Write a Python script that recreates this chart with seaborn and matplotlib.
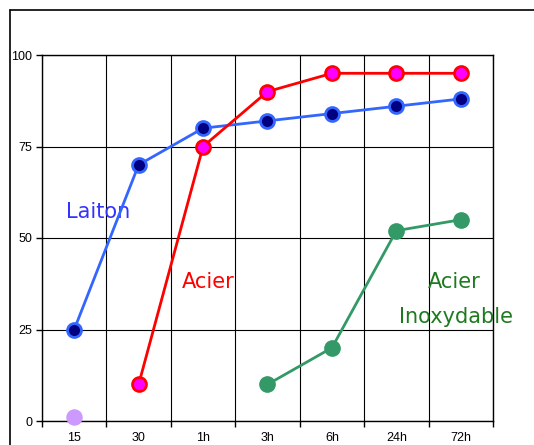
import numpy as np
import pandas as pd
import matplotlib
matplotlib.use('Agg')
import matplotlib.pyplot as plt
import seaborn as sns
from matplotlib.lines import Line2D

categories = ['15', '30', '1h', '3h', '6h', '24h', '72h']
laiton = [25, 70, 80, 82, 84, 86, 88]
acier = [np.nan, 10, 75, 90, 95, 95, 95]
inox = [np.nan, np.nan, np.nan, 10, 20, 52, 55]
extra = [1, np.nan, np.nan, np.nan, np.nan, np.nan, np.nan]
y_ticks = [0, 25, 50, 75, 100]

sns.set_style('white')
plt.rcParams['font.family'] = ['DejaVu Sans']

df = pd.DataFrame({'pos': np.arange(len(categories)), 'laiton': laiton,
                   'acier': acier, 'inox': inox, 'extra': extra})

fig = plt.figure(figsize=(5.34, 4.45), dpi=100)
W, H = 534, 445
ax = fig.add_axes([42 / W, 1 - 421 / H, (493 - 42) / W, (421 - 55) / H])

# outer frame (excel chart area)
fig.add_artist(Line2D([10 / W, 10 / W], [0, 1 - 10 / H], color='black', lw=1.2))
fig.add_artist(Line2D([10 / W, 1], [1 - 10 / H, 1 - 10 / H], color='black', lw=1.2))

sns.lineplot(data=df, x='pos', y='laiton', ax=ax, color='#3366FF', lw=2,
             marker='o', markersize=10, markerfacecolor='#000080',
             markeredgecolor='#3366FF', markeredgewidth=2, clip_on=False, zorder=4)
sns.lineplot(data=df, x='pos', y='acier', ax=ax, color='#FF0000', lw=2,
             marker='o', markersize=10, markerfacecolor='#FF00FF',
             markeredgecolor='#FF0000', markeredgewidth=2, clip_on=False, zorder=5)
sns.lineplot(data=df, x='pos', y='inox', ax=ax, color='#339966', lw=2,
             marker='o', markersize=11, markerfacecolor='#339966',
             markeredgecolor='#339966', markeredgewidth=1, clip_on=False, zorder=4)
sns.scatterplot(data=df, x='pos', y='extra', ax=ax, color='#CC99FF', s=120,
                edgecolor='#CC99FF', clip_on=False, zorder=6)

ax.set_xlim(-0.5, len(categories) - 0.5)
ax.set_ylim(0, 100)
ax.set_xticks(np.arange(len(categories)))
ax.set_xticklabels(categories, family='Liberation Sans')
ax.set_xticks(np.arange(len(categories) + 1) - 0.5, minor=True)
ax.set_yticks(y_ticks)
ax.set_yticklabels([str(v) for v in y_ticks], family='Liberation Sans')
ax.tick_params(axis='x', which='major', length=0, labelsize=9, pad=8, labelcolor='black')
ax.tick_params(axis='x', which='minor', length=4, width=1, direction='out', bottom=True,
               color='black')
ax.tick_params(axis='y', length=4, width=1, direction='out', left=True, labelsize=9, pad=3,
               labelcolor='black', color='black')
ax.grid(False)
ax.grid(True, axis='y', which='major', color='black', lw=0.8)
ax.grid(True, axis='x', which='minor', color='black', lw=0.8)
ax.set_axisbelow(True)
for s in ax.spines.values():
    s.set_color('black')
    s.set_linewidth(1)
ax.set_xlabel('')
ax.set_ylabel('')

ax.text(0.37, 57, 'Laiton', color='#3333FF', fontsize=15, ha='center', va='center')
ax.text(2.08, 38, 'Acier', color='#FF0000', fontsize=15, ha='center', va='center')
ax.text(5.9, 38, 'Acier', color='#1F7A1F', fontsize=15, ha='center', va='center')
ax.text(5.92, 28.5, 'Inoxydable', color='#1F7A1F', fontsize=15, ha='center', va='center')

fig.savefig('out.png', dpi=100)
